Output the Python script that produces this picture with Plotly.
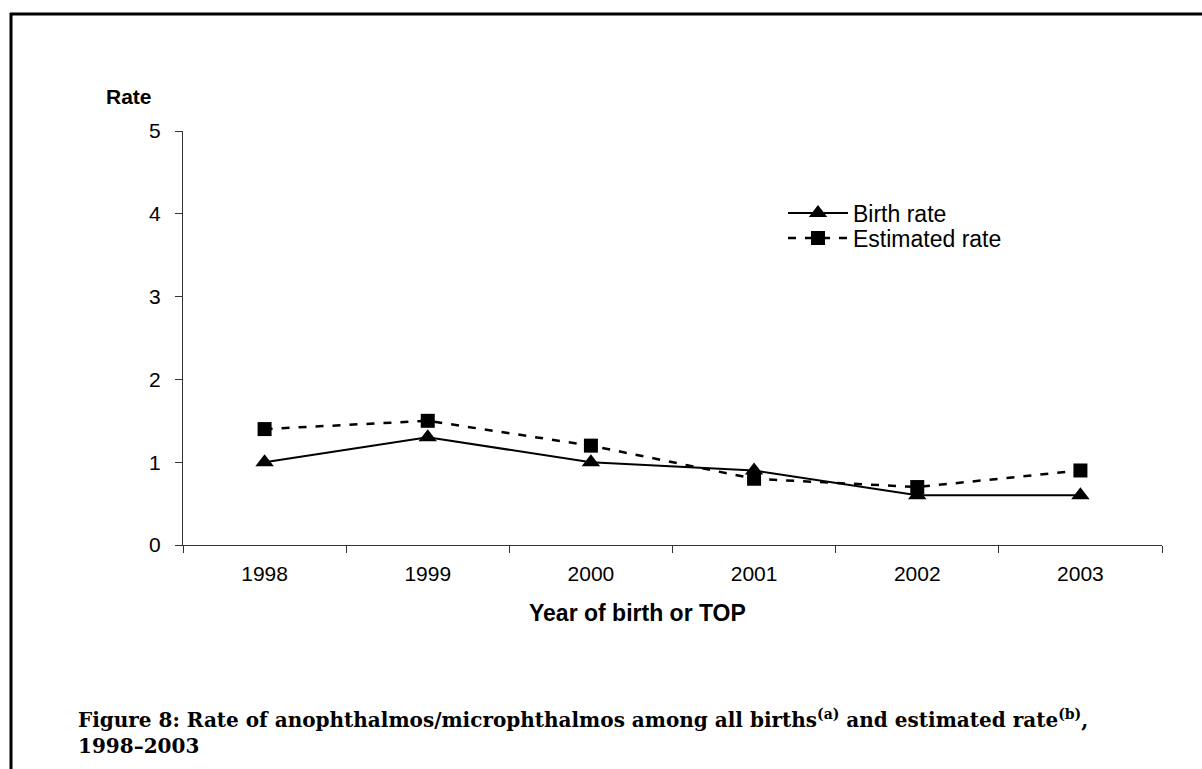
import plotly.graph_objects as go

years = ["1998", "1999", "2000", "2001", "2002", "2003"]
birth_rate = [1.0, 1.3, 1.0, 0.9, 0.6, 0.6]
estimated_rate = [1.4, 1.5, 1.2, 0.8, 0.7, 0.9]
y_ticks = [0, 1, 2, 3, 4, 5]

W, H = 1202, 769
L, R, T, B = 183, 40, 131, 224
pw, ph = W - L - R, H - T - B

def px_x(p):
    return (p - L) / pw

def px_y(p):
    return (H - B - p) / ph

fig = go.Figure()
fig.add_trace(go.Scatter(
    x=years, y=birth_rate, name="Birth rate", mode="lines+markers",
    line=dict(color="black", width=2),
    marker=dict(symbol="triangle-up", size=16, color="black"),
    legend="legend",
))
fig.add_trace(go.Scatter(
    x=years, y=estimated_rate, name="Estimated rate", mode="lines+markers",
    line=dict(color="black", width=2.5, dash="8px,9px"),
    marker=dict(symbol="square", size=14, color="black"),
    legend="legend2",
))

axis_font = dict(family="Liberation Sans, Arial, sans-serif", size=21, color="black")
leg_font = dict(family="Liberation Sans, Arial, sans-serif", size=23, color="black")

fig.update_layout(
    width=W, height=H,
    margin=dict(l=L, r=R, t=T, b=B, pad=0),
    paper_bgcolor="white", plot_bgcolor="white",
    showlegend=True,
    legend=dict(
        x=px_x(783), y=px_y(213), xanchor="left", yanchor="middle",
        font=leg_font, bgcolor="rgba(0,0,0,0)", itemwidth=60,
    ),
    legend2=dict(
        x=px_x(783), y=px_y(238), xanchor="left", yanchor="middle",
        font=leg_font, bgcolor="rgba(0,0,0,0)", itemwidth=60,
    ),
    xaxis=dict(
        type="category", range=[-0.5, 5.5], tickson="boundaries",
        showline=True, linecolor="#333", linewidth=1,
        ticks="outside", ticklen=7, tickcolor="#333",
        showgrid=False, zeroline=False, tickfont=axis_font,
        ticklabelstandoff=10,
        fixedrange=True,
    ),
    yaxis=dict(
        range=[0, 5], tickvals=y_ticks, ticktext=[str(v) for v in y_ticks],
        showline=True, linecolor="#333", linewidth=1,
        ticks="outside", ticklen=7, tickcolor="#333",
        showgrid=False, zeroline=False, tickfont=axis_font,
        ticklabelstandoff=10,
        fixedrange=True,
    ),
    annotations=[
        dict(text="<b>Rate</b>", xref="paper", yref="paper",
             x=px_x(129), y=px_y(96), xanchor="center", yanchor="middle",
             showarrow=False,
             font=dict(family="Liberation Sans, Arial, sans-serif", size=21, color="black")),
        dict(text="<b>Year of birth or TOP</b>", xref="paper", yref="paper",
             x=px_x(637), y=px_y(613), xanchor="center", yanchor="middle",
             showarrow=False,
             font=dict(family="Liberation Sans, Arial, sans-serif", size=23, color="black")),
        dict(text="<b>Figure 8: Rate of anophthalmos/microphthalmos among all births<sup>(a)</sup> and estimated rate<sup>(b)</sup>,<br>1998–2003</b>",
             xref="paper", yref="paper",
             x=px_x(76), y=px_y(704), xanchor="left", yanchor="top", align="left",
             showarrow=False,
             font=dict(family="DejaVu Serif, serif", size=20, color="black")),
    ],
    shapes=[
        dict(type="line", xref="paper", yref="paper",
             x0=px_x(11), x1=px_x(11), y0=px_y(13), y1=px_y(775),
             line=dict(color="black", width=3)),
        dict(type="line", xref="paper", yref="paper",
             x0=px_x(10), x1=px_x(1210), y0=px_y(14), y1=px_y(14),
             line=dict(color="black", width=3)),
    ],
)

fig.write_html(
    "out.html",
    config={"displayModeBar": False},
    post_script="document.body.style.margin='0';document.body.style.overflow='hidden';",
)
